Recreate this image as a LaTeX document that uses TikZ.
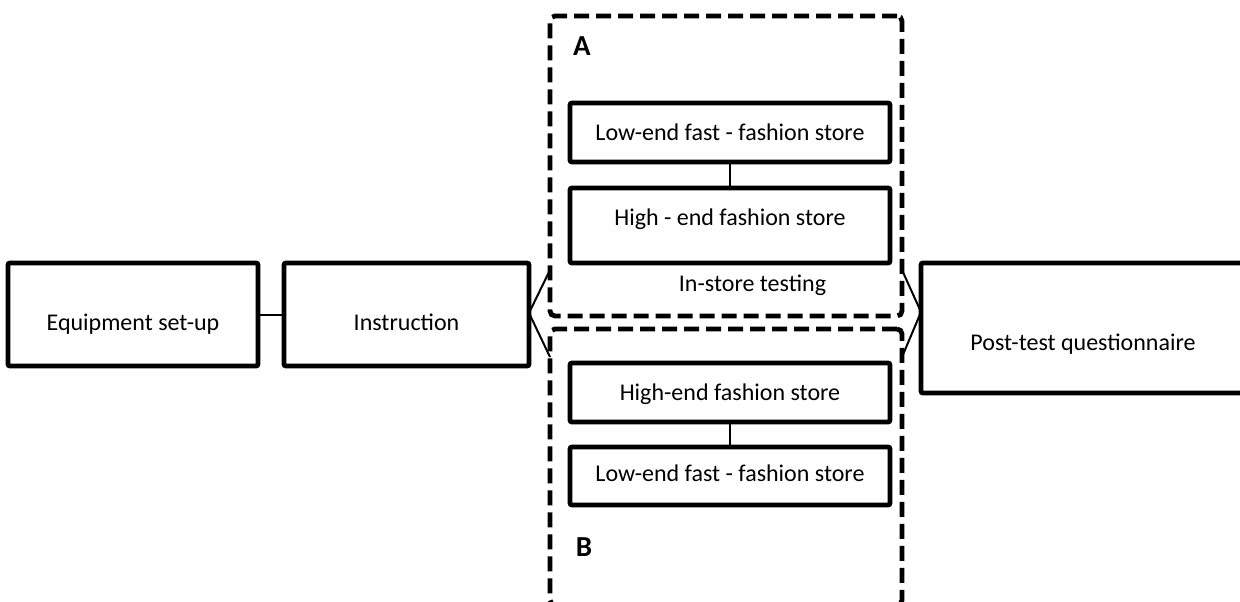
\documentclass[tikz,border=0pt]{standalone}
\usepackage{fontspec}
\setmainfont{Carlito}
\begin{document}
\begin{tikzpicture}[x=1pt,y=-1pt,
  every node/.style={font=\fontsize{24}{28}\selectfont},
  box/.style={draw, line width=4.8pt, rounded corners=2pt, inner sep=0pt, text depth=0pt, text height=#1},
  box/.default=0pt,
  grp/.style={draw, line width=4.8pt, dash pattern=on 15pt off 7pt, rounded corners=5pt, inner sep=0pt},
  conn/.style={line width=2pt},
  lab/.style={font=\fontsize{29}{33}\selectfont\bfseries, anchor=base, inner sep=0pt},
  txt/.style={anchor=base, inner sep=0pt}]
\useasboundingbox (0,0) rectangle (1240,602);
\clip (0,0) rectangle (1240,602);
% groups
\node[grp, minimum width=352pt, minimum height=300pt] (A) at (726,166) {};
\node[grp, minimum width=352pt, minimum height=276pt] (B) at (726,467) {};
% main boxes
\node[box=31pt, minimum width=250pt, minimum height=103pt] (equip) at (133,314.5) {Equipment set-up};
\node[box=31pt, minimum width=245pt, minimum height=103pt] (instr) at (406.5,314.5) {Instruction};
\node[box=44pt, minimum width=324pt, minimum height=130pt] (post) at (1083,328) {Post-test questionnaire};
% inner boxes A
\node[box=15pt, minimum width=320pt, minimum height=59pt] (a1) at (730,132.5) {Low-end fast - fashion store};
\node[box=0pt, minimum width=320pt, minimum height=75pt] (a2) at (730,225.5) {High - end fashion store};
% inner boxes B
\node[box=15pt, minimum width=320pt, minimum height=59pt] (b1) at (730,392.5) {High-end fashion store};
\node[box=11.4pt, minimum width=320pt, minimum height=58pt] (b2) at (730,476) {Low-end fast - fashion store};
% labels
\node[lab] (labA) at (582,56) {A};
\node[lab] (labB) at (584,556) {B};
\node[txt] (instore) at (752.5,291.7) {In-store testing};
% connector points
\coordinate (aL) at (550,270);
\coordinate (bL) at (550,357);
\coordinate (aR) at (902,270);
\coordinate (bR) at (902,357);
\coordinate (pin) at (921,312);
\coordinate (iout) at (529,313);
% connectors
\draw[conn] (equip.east) -- (instr.west);
\draw[conn] (aL) -- (iout) -- (bL);
\draw[conn] (aR) -- (pin) -- (bR);
\draw[conn] (a1.south) -- (a2.north);
\draw[conn] (b1.south) -- (b2.north);
\end{tikzpicture}
\end{document}
